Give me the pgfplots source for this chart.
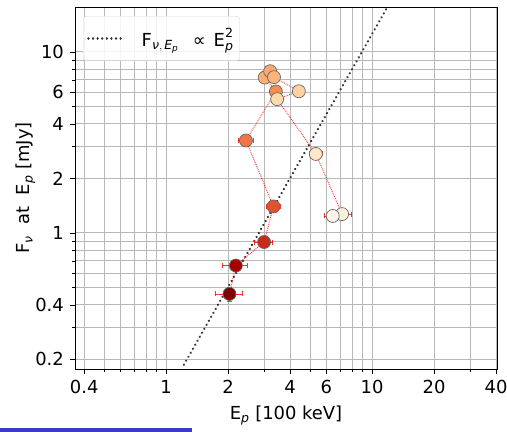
\documentclass[border=0pt]{standalone}
\usepackage{amsmath}
\usepackage{fontspec}
\setmainfont{DejaVu Sans}
\usepackage{pgfplots}
\pgfplotsset{compat=1.18}
\definecolor{gridc}{HTML}{B8B8B8}
\definecolor{bluebar}{RGB}{58,58,200}
\definecolor{c1}{HTML}{7F0000}
\definecolor{c2}{HTML}{A80000}
\definecolor{c3}{HTML}{CC2A14}
\definecolor{c4}{HTML}{E3522F}
\definecolor{c5}{HTML}{F07446}
\definecolor{c6}{HTML}{F98A52}
\definecolor{c7}{HTML}{FDAE74}
\definecolor{c8}{HTML}{FCA86E}
\definecolor{c9}{HTML}{FDB47C}
\definecolor{c10}{HTML}{FDD2A0}
\definecolor{c11}{HTML}{FDDAAC}
\definecolor{c12}{HTML}{FEE8C8}
\definecolor{c13}{HTML}{FFF0DC}
\definecolor{c14}{HTML}{FFF5EA}
\newcommand{\fs}{\fontsize{18}{21}\selectfont}
\begin{document}
\fs%
\begin{tikzpicture}
\useasboundingbox (-75bp,-63bp) rectangle (432bp,369bp);
\fill[bluebar] (-75bp,-63bp) rectangle (117bp,-59bp);
\begin{axis}[
  at={(0bp,0bp)}, anchor=south west,
  scale only axis, width=422bp, height=362bp,
  xmode=log, ymode=log,
  xmin=0.361, xmax=40.4, ymin=0.177, ymax=17.7,
  xtick={0.4,1,2,4,6,10,20,40},
  xticklabels={0.4,1,2,4,6,10,20,40},
  minor xtick={0.5,0.6,0.7,0.8,0.9,3,5,7,8,9,30},
  ytick={0.2,0.4,1,2,4,6,10},
  yticklabels={0.2,0.4,1,2,4,6,10},
  minor ytick={0.3,0.5,0.6,0.7,0.8,0.9,3,5,7,8,9},
  grid=both,
  major grid style={gridc, line width=0.9pt},
  minor grid style={gridc, line width=0.9pt},
  tick align=outside, tick pos=left,
  major tick length=5bp, minor tick length=3bp,
  every tick/.style={black, line width=0.7pt},
  axis line style={black, line width=0.8pt},
  /pgf/number format/assume math mode=true,
  tick label style={font=\fs},
  label style={font=\fs},
  xlabel={E$_{\textit{p}}$ [100 keV]},
  ylabel={F$_{\textit{ν}}$\ \ at\ \ E$_{\textit{p}}$ [mJy]},
  ylabel shift=-12bp,
  legend style={at={(0.019,0.975)}, anchor=north west, font=\fs,
    draw=gray!35, rounded corners=3bp, fill=white, fill opacity=0.85, text opacity=1,
    inner xsep=4bp, inner ysep=10bp,
    /tikz/every even column/.append style={column sep=0bp}},
  legend cell align=left,
  legend image code/.code={\draw[#1] (0bp,0bp) -- (36bp,0bp);},
]
% power law F ~ Ep^2
\addplot[black!80, line width=2.5pt, line cap=round, dash pattern=on 0.01pt off 4.6pt]
  coordinates {(1.22,0.187) (11.8,17.5)};
\addlegendentry{\hspace{14bp}$\text{F}_{\textit{ν},\,\textit{E}_{\textit{p}}}$\hspace{14bp}∝\hspace{8bp}$\text{E}_{\textit{p}}^{\text{2}}$\hspace{2bp}}
% connecting dotted line with error bars
\addplot[red, opacity=0.8, line width=0.9pt, densely dotted, forget plot,
  error bars/.cd, x dir=both, x explicit, y dir=both, y explicit,
  error bar style={red, solid, line width=0.8pt},
  error mark options={red, mark size=2.5bp, rotate=90}]
  coordinates {
  (2.03,0.46) +- (0.30,0.04)
  (2.18,0.66) +- (0.30,0.04)
  (2.99,0.89) +- (0.30,0.03)
  (3.32,1.40) +- (0.25,0.03)
  (2.44,3.24) +- (0.20,0.05)
  (3.41,6.04) +- (0.10,0.10)
  (3.01,7.21) +- (0.10,0.10)
  (3.20,7.82) +- (0.10,0.10)
  (3.34,7.25) +- (0.10,0.10)
  (4.41,6.06) +- (0.15,0.10)
  (3.46,5.48) +- (0.15,0.10)
  (5.33,2.73) +- (0.40,0.05)
  (7.15,1.27) +- (0.80,0.05)
  (6.44,1.24) +- (0.60,0.05)
  };
% markers
\pgfplotsset{pt/.style={only marks, forget plot, mark=*, mark size=6.5bp,
  mark options={fill=#1, draw=black!60, line width=0.7pt}}}
\addplot[pt=c1] coordinates {(2.03,0.46)};
\addplot[pt=c2] coordinates {(2.18,0.66)};
\addplot[pt=c3] coordinates {(2.99,0.89)};
\addplot[pt=c4] coordinates {(3.32,1.40)};
\addplot[pt=c5] coordinates {(2.44,3.24)};
\addplot[pt=c6] coordinates {(3.41,6.04)};
\addplot[pt=c7] coordinates {(3.01,7.21)};
\addplot[pt=c8] coordinates {(3.20,7.82)};
\addplot[pt=c9] coordinates {(3.34,7.25)};
\addplot[pt=c10] coordinates {(4.41,6.06)};
\addplot[pt=c11] coordinates {(3.46,5.48)};
\addplot[pt=c12] coordinates {(5.33,2.73)};
\addplot[pt=c13] coordinates {(7.15,1.27)};
\addplot[pt=c14] coordinates {(6.44,1.24)};
\end{axis}
\end{tikzpicture}
\end{document}
